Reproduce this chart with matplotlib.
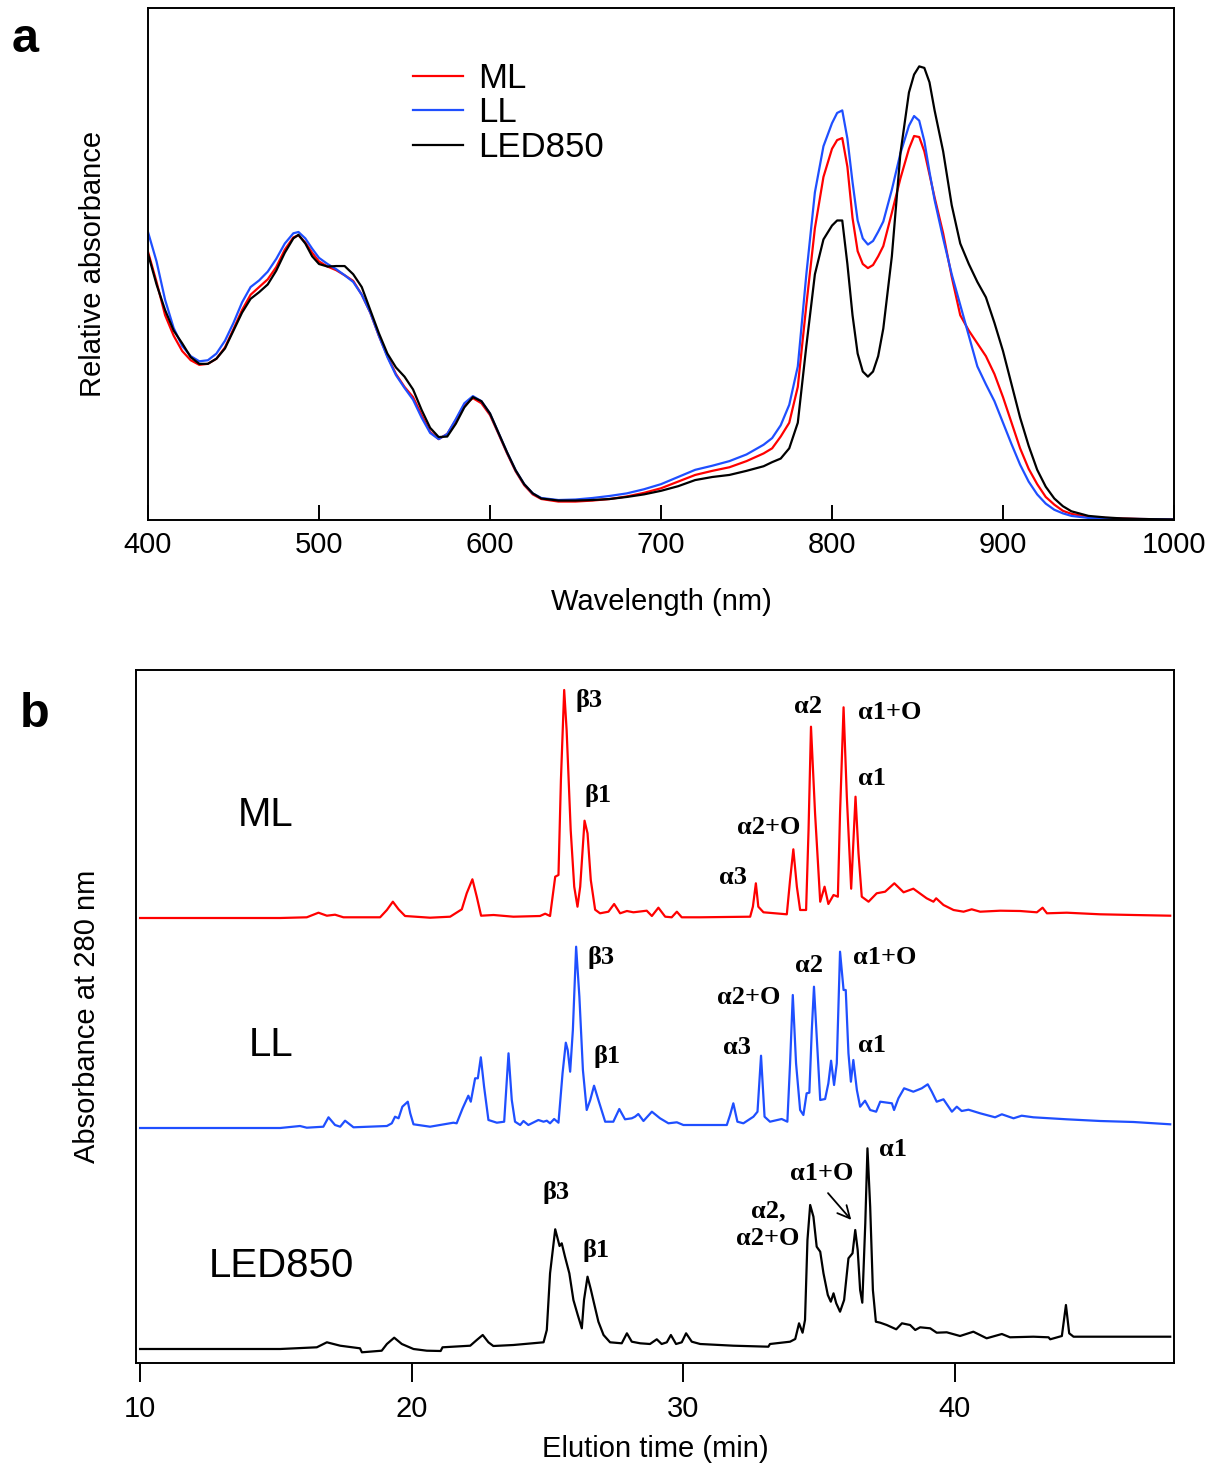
import numpy as np
import matplotlib
matplotlib.use('Agg')
import matplotlib.pyplot as plt

plt.rcParams['font.family'] = ['Liberation Sans', 'DejaVu Sans']

###################################Panel a data##################################

# Wavelength grid (nm)
wl = [400, 405, 410, 415, 420, 425, 430, 435, 440, 445, 450, 455, 460, 465, 470,
      475, 480, 485, 488, 492, 496, 500, 505, 510, 515, 520, 525, 530, 535, 540,
      545, 550, 555, 560, 565, 570, 575, 580, 585, 590, 595, 600, 605, 610, 615,
      620, 625, 630, 640, 650, 660, 670, 680, 690, 700, 710, 720, 730, 740, 750,
      760, 765, 770, 775, 780, 785, 790, 795, 800, 803, 806, 809, 812, 815, 818,
      821, 824, 827, 830, 835, 840, 845, 848, 851, 854, 857, 860, 865, 870, 875,
      880, 885, 890, 895, 900, 905, 910, 915, 920, 925, 930, 935, 940, 950, 960,
      970, 980, 1000]

abs_ml = [0.524, 0.465, 0.400, 0.360, 0.330, 0.312, 0.303, 0.305, 0.315, 0.337,
          0.373, 0.410, 0.440, 0.455, 0.470, 0.494, 0.528, 0.552, 0.556, 0.542,
          0.522, 0.505, 0.495, 0.488, 0.478, 0.467, 0.440, 0.405, 0.360, 0.320,
          0.285, 0.260, 0.240, 0.205, 0.172, 0.158, 0.168, 0.195, 0.225, 0.238,
          0.228, 0.205, 0.168, 0.130, 0.095, 0.068, 0.050, 0.041, 0.036, 0.036,
          0.038, 0.041, 0.046, 0.053, 0.062, 0.075, 0.088, 0.096, 0.103, 0.115,
          0.130, 0.140, 0.163, 0.190, 0.260, 0.420, 0.570, 0.670, 0.725, 0.742,
          0.746, 0.690, 0.590, 0.525, 0.500, 0.492, 0.498, 0.515, 0.535, 0.600,
          0.667, 0.725, 0.750, 0.748, 0.720, 0.675, 0.630, 0.560, 0.475, 0.400,
          0.370, 0.345, 0.320, 0.285, 0.240, 0.190, 0.140, 0.100, 0.070, 0.045,
          0.030, 0.018, 0.012, 0.006, 0.004, 0.003, 0.002, 0.001]

abs_ll = [0.5625, 0.505, 0.430, 0.375, 0.340, 0.320, 0.310, 0.312, 0.325, 0.350,
          0.385, 0.425, 0.455, 0.468, 0.485, 0.510, 0.540, 0.560, 0.5625, 0.550,
          0.530, 0.512, 0.500, 0.490, 0.478, 0.465, 0.440, 0.405, 0.360, 0.318,
          0.283, 0.258, 0.235, 0.200, 0.170, 0.158, 0.168, 0.197, 0.228, 0.242,
          0.232, 0.208, 0.170, 0.132, 0.097, 0.070, 0.052, 0.043, 0.039, 0.040,
          0.043, 0.047, 0.052, 0.060, 0.070, 0.084, 0.098, 0.106, 0.115, 0.128,
          0.147, 0.160, 0.185, 0.225, 0.300, 0.480, 0.640, 0.730, 0.775, 0.795,
          0.800, 0.745, 0.660, 0.585, 0.550, 0.538, 0.545, 0.563, 0.583, 0.645,
          0.716, 0.770, 0.789, 0.780, 0.740, 0.680, 0.625, 0.550, 0.480, 0.420,
          0.360, 0.300, 0.265, 0.232, 0.190, 0.148, 0.108, 0.075, 0.050, 0.032,
          0.020, 0.013, 0.008, 0.004, 0.003, 0.002, 0.002, 0.001]

abs_led = [0.520, 0.460, 0.410, 0.370, 0.345, 0.318, 0.305, 0.305, 0.315, 0.335,
           0.370, 0.405, 0.432, 0.445, 0.460, 0.487, 0.522, 0.550, 0.557, 0.540,
           0.515, 0.500, 0.495, 0.496, 0.496, 0.480, 0.455, 0.410, 0.365, 0.325,
           0.298, 0.280, 0.255, 0.215, 0.180, 0.162, 0.163, 0.188, 0.220, 0.240,
           0.232, 0.208, 0.170, 0.132, 0.097, 0.070, 0.052, 0.042, 0.038, 0.038,
           0.039, 0.041, 0.045, 0.050, 0.057, 0.066, 0.078, 0.084, 0.088, 0.096,
           0.105, 0.113, 0.120, 0.140, 0.190, 0.340, 0.480, 0.548, 0.575, 0.585,
           0.585, 0.500, 0.400, 0.325, 0.290, 0.280, 0.290, 0.320, 0.374, 0.515,
           0.716, 0.835, 0.870, 0.886, 0.883, 0.855, 0.800, 0.720, 0.615, 0.540,
           0.500, 0.465, 0.435, 0.385, 0.330, 0.265, 0.200, 0.145, 0.098, 0.065,
           0.042, 0.027, 0.017, 0.008, 0.005, 0.003, 0.002, 0.001]

###################################Panel b data##################################

# ML chromatogram: elution time (min) and A280 above its own baseline
t_ml = [10.0, 15.16, 16.14, 16.57, 16.88, 17.18, 17.49, 18.84, 19.09, 19.31,
        19.52, 19.76, 20.68, 21.42, 21.85, 22.03, 22.24, 22.40, 22.56, 23.02,
        23.75, 24.73, 24.92, 25.10, 25.29, 25.41, 25.50, 25.62, 25.71, 25.86,
        25.99, 26.11, 26.21, 26.37, 26.48, 26.60, 26.76, 26.94, 27.25, 27.46,
        27.68, 27.93, 28.17, 28.66, 28.85, 29.09, 29.34, 29.58, 29.77, 29.95,
        30.63, 32.47, 32.57, 32.68, 32.77, 32.96, 33.82, 33.94, 34.06, 34.19,
        34.31, 34.53, 34.62, 34.71, 34.86, 35.05, 35.21, 35.35, 35.54, 35.70,
        35.78, 35.91, 36.03, 36.19, 36.35, 36.46, 36.58, 36.83, 37.13, 37.44,
        37.78, 38.12, 38.48, 38.97, 39.22, 39.32, 39.59, 39.96, 40.33, 40.63,
        40.94, 41.68, 42.41, 43.03, 43.24, 43.40, 44.13, 45.36, 46.59, 47.94]
a_ml = [0, 0, 0.7, 5.3, 2.3, 3.3, 0.7, 0.7, 8, 16.3,
        8.7, 2, 0.3, 1.3, 8.7, 24.7, 38.7, 21.3, 2.3, 3,
        1.3, 2, 4.3, 2, 41.3, 43, 138, 228, 188, 88,
        31.3, 11.3, 31.3, 97.3, 84.7, 38, 8.3, 4.7, 6.3, 14,
        4.7, 7, 5.7, 7.3, 2, 10.3, 1.3, 0.7, 6.3, 0.7,
        0.7, 1.3, 11.3, 34.7, 11.3, 5.7, 3.7, 38, 68.7, 31.3,
        8, 8, 88, 191.3, 104.7, 16.3, 31.3, 14, 23, 21.3,
        104.7, 210.7, 121.3, 29.3, 121.3, 64.7, 21.3, 16.3, 24.7, 26.3,
        34.7, 25.7, 29.3, 19.7, 16.3, 19.7, 13, 8, 6.3, 8.7,
        6.3, 7.3, 7, 5.7, 10.3, 4.7, 5.3, 3.7, 3, 2.3]

# LL chromatogram
t_ll = [10.0, 15.16, 15.89, 16.14, 16.75, 16.94, 17.18, 17.37, 17.55, 17.86,
        19.09, 19.27, 19.39, 19.52, 19.66, 19.86, 19.95, 20.07, 20.68, 21.54,
        21.66, 21.88, 22.09, 22.18, 22.34, 22.44, 22.55, 22.67, 22.83, 23.14,
        23.41, 23.57, 23.69, 23.81, 24.00, 24.12, 24.30, 24.67, 24.86, 24.98,
        25.10, 25.25, 25.41, 25.56, 25.68, 25.75, 25.84, 25.94, 26.06, 26.18,
        26.31, 26.45, 26.58, 26.72, 26.88, 27.13, 27.43, 27.65, 27.86, 28.11,
        28.23, 28.35, 28.54, 28.85, 29.15, 29.46, 29.77, 30.01, 30.63, 31.61,
        31.73, 31.85, 32.00, 32.22, 32.59, 32.74, 32.87, 33.00, 33.20, 33.63,
        33.84, 33.94, 34.04, 34.16, 34.31, 34.43, 34.55, 34.65, 34.74, 34.82,
        34.92, 35.05, 35.23, 35.35, 35.45, 35.56, 35.66, 35.78, 35.91, 35.99,
        36.09, 36.18, 36.27, 36.40, 36.52, 36.70, 36.89, 37.11, 37.26, 37.69,
        37.77, 37.93, 38.14, 38.48, 38.63, 38.79, 39.01, 39.16, 39.34, 39.59,
        39.90, 40.08, 40.26, 40.51, 40.94, 41.49, 41.74, 42.17, 42.47, 42.90,
        44.13, 45.36, 46.59, 47.94]
a_ll = [0, 0, 2, 0.3, 1.3, 10.7, 3, 1.3, 7.3, 0.7,
        2, 4.7, 11.3, 9.7, 21.3, 26.3, 14.7, 3.7, 1.3, 5.3,
        4.7, 19.7, 32.3, 26.3, 49.7, 49.7, 70.7, 41.3, 8, 5.3,
        6.3, 74.7, 28, 6.3, 3, 7, 3, 8, 6.3, 7.3,
        4.7, 9, 5.3, 54.7, 85.3, 78, 56.3, 98, 181.3, 131.3,
        58, 18, 28, 42.3, 28, 6.3, 6.3, 19, 8.7, 9.7,
        11.3, 14, 7, 16.3, 9.7, 4.7, 5.7, 3, 3, 3,
        13, 24.7, 6.3, 4.7, 11.3, 16.3, 72.3, 11.3, 6.3, 9,
        6.3, 64.7, 133, 64.7, 18, 13, 34.7, 35.3, 98, 141.3,
        91.3, 28, 29, 44.7, 67.3, 43, 64.7, 176.3, 138, 138,
        74.7, 46.3, 68, 38, 21.3, 27.3, 18, 16.3, 26.3, 24.7,
        18, 29.7, 39.7, 36.3, 38, 39.7, 43.7, 36.3, 26.3, 28.7,
        16.3, 21.3, 17, 18.3, 14.7, 10.7, 13.7, 9.7, 12.3, 10.7,
        8.7, 7, 6, 3.7]

# LED850 chromatogram
t_led = [10.0, 15.16, 16.51, 16.88, 17.37, 18.10, 18.17, 18.90, 19.09, 19.36,
         19.64, 20.07, 20.56, 21.07, 21.14, 22.16, 22.40, 22.62, 22.83, 23.01,
         23.75, 24.86, 24.98, 25.10, 25.29, 25.45, 25.53, 25.65, 25.81, 25.96,
         26.12, 26.27, 26.35, 26.48, 26.60, 26.72, 26.88, 27.07, 27.31, 27.74,
         27.93, 28.11, 28.42, 28.78, 29.03, 29.21, 29.40, 29.55, 29.74, 29.95,
         30.11, 30.32, 30.63, 31.85, 33.14, 33.20, 33.94, 34.13, 34.27, 34.40,
         34.49, 34.58, 34.68, 34.80, 34.92, 35.05, 35.17, 35.33, 35.44, 35.54,
         35.64, 35.78, 35.93, 36.09, 36.24, 36.34, 36.43, 36.52, 36.60, 36.71,
         36.79, 36.89, 36.99, 37.10, 37.26, 37.50, 37.85, 38.06, 38.36, 38.55,
         38.73, 39.10, 39.34, 39.71, 40.20, 40.69, 41.18, 41.74, 42.04, 42.90,
         43.46, 43.52, 43.95, 44.10, 44.22, 44.38, 45.97, 47.94]
a_led = [0, 0, 1.7, 6.7, 3.3, 0.7, -3.3, -1.7, 5, 11.3,
         5, 0, -1.7, -2, 1.7, 3.3, 9, 14, 6.7, 3,
         4, 6.7, 19, 75.7, 119.7, 103, 105.7, 92.3, 75.7, 49,
         34, 20.7, 49, 72.3, 59.7, 45.7, 27.3, 14, 6.7, 5.7,
         15.7, 7.3, 5.7, 5, 9.7, 5, 6.7, 14, 5, 6.7,
         15.7, 7.3, 5, 3.3, 2.3, 5, 7.3, 10, 25.7, 16.3,
         29, 109, 144, 132.3, 102.3, 97.3, 75.7, 54, 47.3, 55.7,
         45.7, 37.3, 49, 90.7, 95.7, 119, 99, 59, 46.3, 125.7,
         200.7, 142.3, 59, 27.3, 26.3, 24, 19.7, 25.7, 24, 19,
         21.7, 20.7, 16.3, 16.7, 13, 17.3, 10.7, 15, 11.7, 12.3,
         11.7, 9.7, 13, 44, 15.7, 12.3, 12.3, 12.3]

# vertical offsets of the stacked traces
off_ml, off_ll, off_led = 445, 235, 14

# peak labels: (text, time, height)
lab_ml = [('β3', 26.54, 663), ('β1', 26.87, 568), ('α2', 34.60, 657),
          ('α1+O', 37.62, 651), ('α1', 36.96, 585), ('α2+O', 33.17, 536),
          ('α3', 31.84, 486)]
lab_ll = [('β3', 26.98, 406), ('β1', 27.20, 306), ('α2+O', 32.43, 366),
          ('α2', 34.64, 398), ('α1+O', 37.44, 406), ('α1', 36.96, 317),
          ('α3', 31.99, 315)]
lab_led = [('β3', 25.32, 170), ('β1', 26.80, 113), ('α2,\nα2+O', 33.13, 138),
           ('α1+O', 35.12, 190), ('α1', 37.73, 213)]

c_ml = '#ff0000'
c_ll = '#1f4fff'
c_led = '#000000'

####################################Plotting####################################

fig = plt.figure(figsize=(12.10, 14.63), dpi=100)

# Panel a - absorption spectra
ax = fig.add_axes([148/1210, 1-520/1463, 1026/1210, 512/1463])
ax.plot(wl, abs_ml, color=c_ml, lw=1.6, label='ML')
ax.plot(wl, abs_ll, color=c_ll, lw=1.6, label='LL')
ax.plot(wl, abs_led, color=c_led, lw=1.6, label='LED850')
ax.set_xlim(400, 1000)
ax.set_ylim(0, 1)
ax.set_xticks([400, 500, 600, 700, 800, 900, 1000])
ax.set_yticks([])
ax.tick_params(axis='x', direction='in', length=11, width=1.4, labelsize=21, pad=8)
for s in ax.spines.values():
    s.set_linewidth(1.4)
ax.set_xlabel('Wavelength (nm)', fontsize=21)
ax.xaxis.set_label_coords(0.5, -0.133)
ax.set_ylabel('Relative absorbance', fontsize=21)
ax.yaxis.set_label_coords(-0.04, 0.5)
ax.legend(loc='upper left', bbox_to_anchor=(0.2583, 0.895), frameon=False,
          fontsize=25, handlelength=1.44, handletextpad=0.43, labelspacing=0.05,
          borderpad=0, borderaxespad=0)

# Panel b - HPLC chromatograms
bx = fig.add_axes([136/1210, 1-1363/1463, 1038/1210, 693/1463])
bx.plot(t_ml, np.array(a_ml) + off_ml, color=c_ml, lw=1.6)
bx.plot(t_ll, np.array(a_ll) + off_ll, color=c_ll, lw=1.6)
bx.plot(t_led, np.array(a_led) + off_led, color=c_led, lw=1.6)
bx.set_xlim(9.85, 48.08)
bx.set_ylim(0, 693)
bx.set_xticks([10, 20, 30, 40])
bx.set_yticks([])
bx.tick_params(axis='x', direction='out', length=14, width=1.4, labelsize=21, pad=9)
for s in bx.spines.values():
    s.set_linewidth(1.4)
bx.set_xlabel('Elution time (min)', fontsize=21)
bx.xaxis.set_label_coords(0.5, -0.104)
bx.set_ylabel('Absorbance at 280 nm', fontsize=21)
bx.yaxis.set_label_coords(-0.0337, 0.5)

bx.text(14.64, 548, 'ML', fontsize=29, ha='center', va='center')
bx.text(14.83, 318, 'LL', fontsize=29, ha='center', va='center')
bx.text(15.19, 97, 'LED850', fontsize=29, ha='center', va='center')

for txt, x, y in lab_ml + lab_ll + lab_led:
    bx.text(x, y, txt, fontsize=19, fontweight='bold', ha='center', va='center',
            family=['Liberation Serif', 'DejaVu Serif'], linespacing=1.25)

bx.annotate('', xy=(36.26, 141), xytext=(35.27, 172),
            arrowprops=dict(arrowstyle='->', lw=1.3, color='black',
                            mutation_scale=22))

# panel letters
fig.text(12/1210, 1-52/1463, 'a', fontsize=35, fontweight='bold')
fig.text(20/1210, 1-727/1463, 'b', fontsize=35, fontweight='bold')

plt.savefig('out.png', dpi=100)
